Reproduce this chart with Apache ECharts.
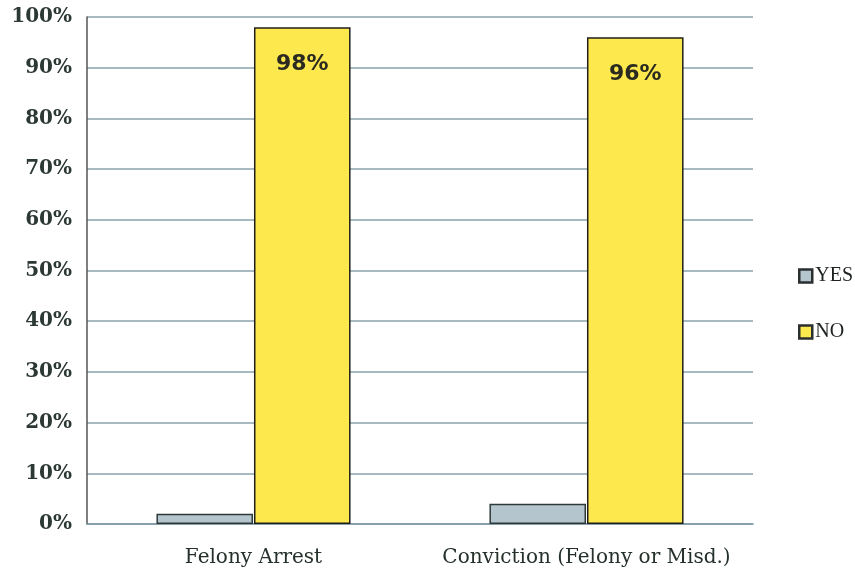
<!DOCTYPE html>
<html>
<head>
<meta charset="utf-8">
<script src="https://cdn.jsdelivr.net/npm/echarts@6/dist/echarts.min.js"></script>
<style>html,body{margin:0;padding:0;background:#fff}#c{width:855px;height:577px}</style>
</head>
<body>
<div id="c"></div>
<script>
const categories = ["Felony Arrest", "Conviction (Felony or Misd.)"];
const yesValues = [2, 4];
const noValues = [98, 96];
const seriesNames = ["YES", "NO"];

const chart = echarts.init(document.getElementById('c'), null, {renderer: 'canvas'});
chart.setOption({
  backgroundColor: '#ffffff',
  animation: false,
  grid: {left: 87, right: 102, top: 17, bottom: 53},
  legend: {
    orient: 'vertical', left: 793, top: 261, itemGap: 36,
    itemWidth: 13, itemHeight: 13, icon: 'rect',
    data: seriesNames,
    itemStyle: {borderWidth: 2.5, borderColor: '#2a2f2f'},
    textStyle: {fontFamily: 'Liberation Serif', fontSize: 20, color: '#1e2222', padding: [2,0,0,-2]}
  },
  xAxis: {
    type: 'category', data: categories,
    axisLine: {show: true, lineStyle: {color: '#7f98a4', width: 1.5}},
    axisTick: {show: false},
    axisLabel: {interval: 0, fontFamily: 'DejaVu Serif', fontSize: 20, color: '#243029', margin: 24}
  },
  yAxis: {
    type: 'value', min: 0, max: 100, interval: 10,
    axisLine: {show: true, lineStyle: {color: '#555', width: 1.5}},
    axisTick: {show: false},
    splitLine: {lineStyle: {color: '#8aa3ae', width: 1.5}},
    axisLabel: {formatter: '{value}%', fontFamily: 'DejaVu Serif', fontWeight: 'bold', fontSize: 20, color: '#2b3833', margin: 15}
  },
  series: [
    {
      name: seriesNames[0], type: 'bar', data: yesValues,
      barWidth: '29%', barGap: '1%',
      itemStyle: {color: '#b5c5cd', borderColor: '#2e3a3a', borderWidth: 1.5}
    },
    {
      name: seriesNames[1], type: 'bar', data: noValues,
      barWidth: '29%',
      itemStyle: {color: '#fde84e', borderColor: '#1f1f1a', borderWidth: 1.5},
      label: {show: true, position: 'insideTop', distance: 26, formatter: '{c}%',
        fontFamily: 'DejaVu Sans', fontWeight: 'bold', fontSize: 22, color: '#2a2a20'}
    }
  ]
});
</script>
</body>
</html>
